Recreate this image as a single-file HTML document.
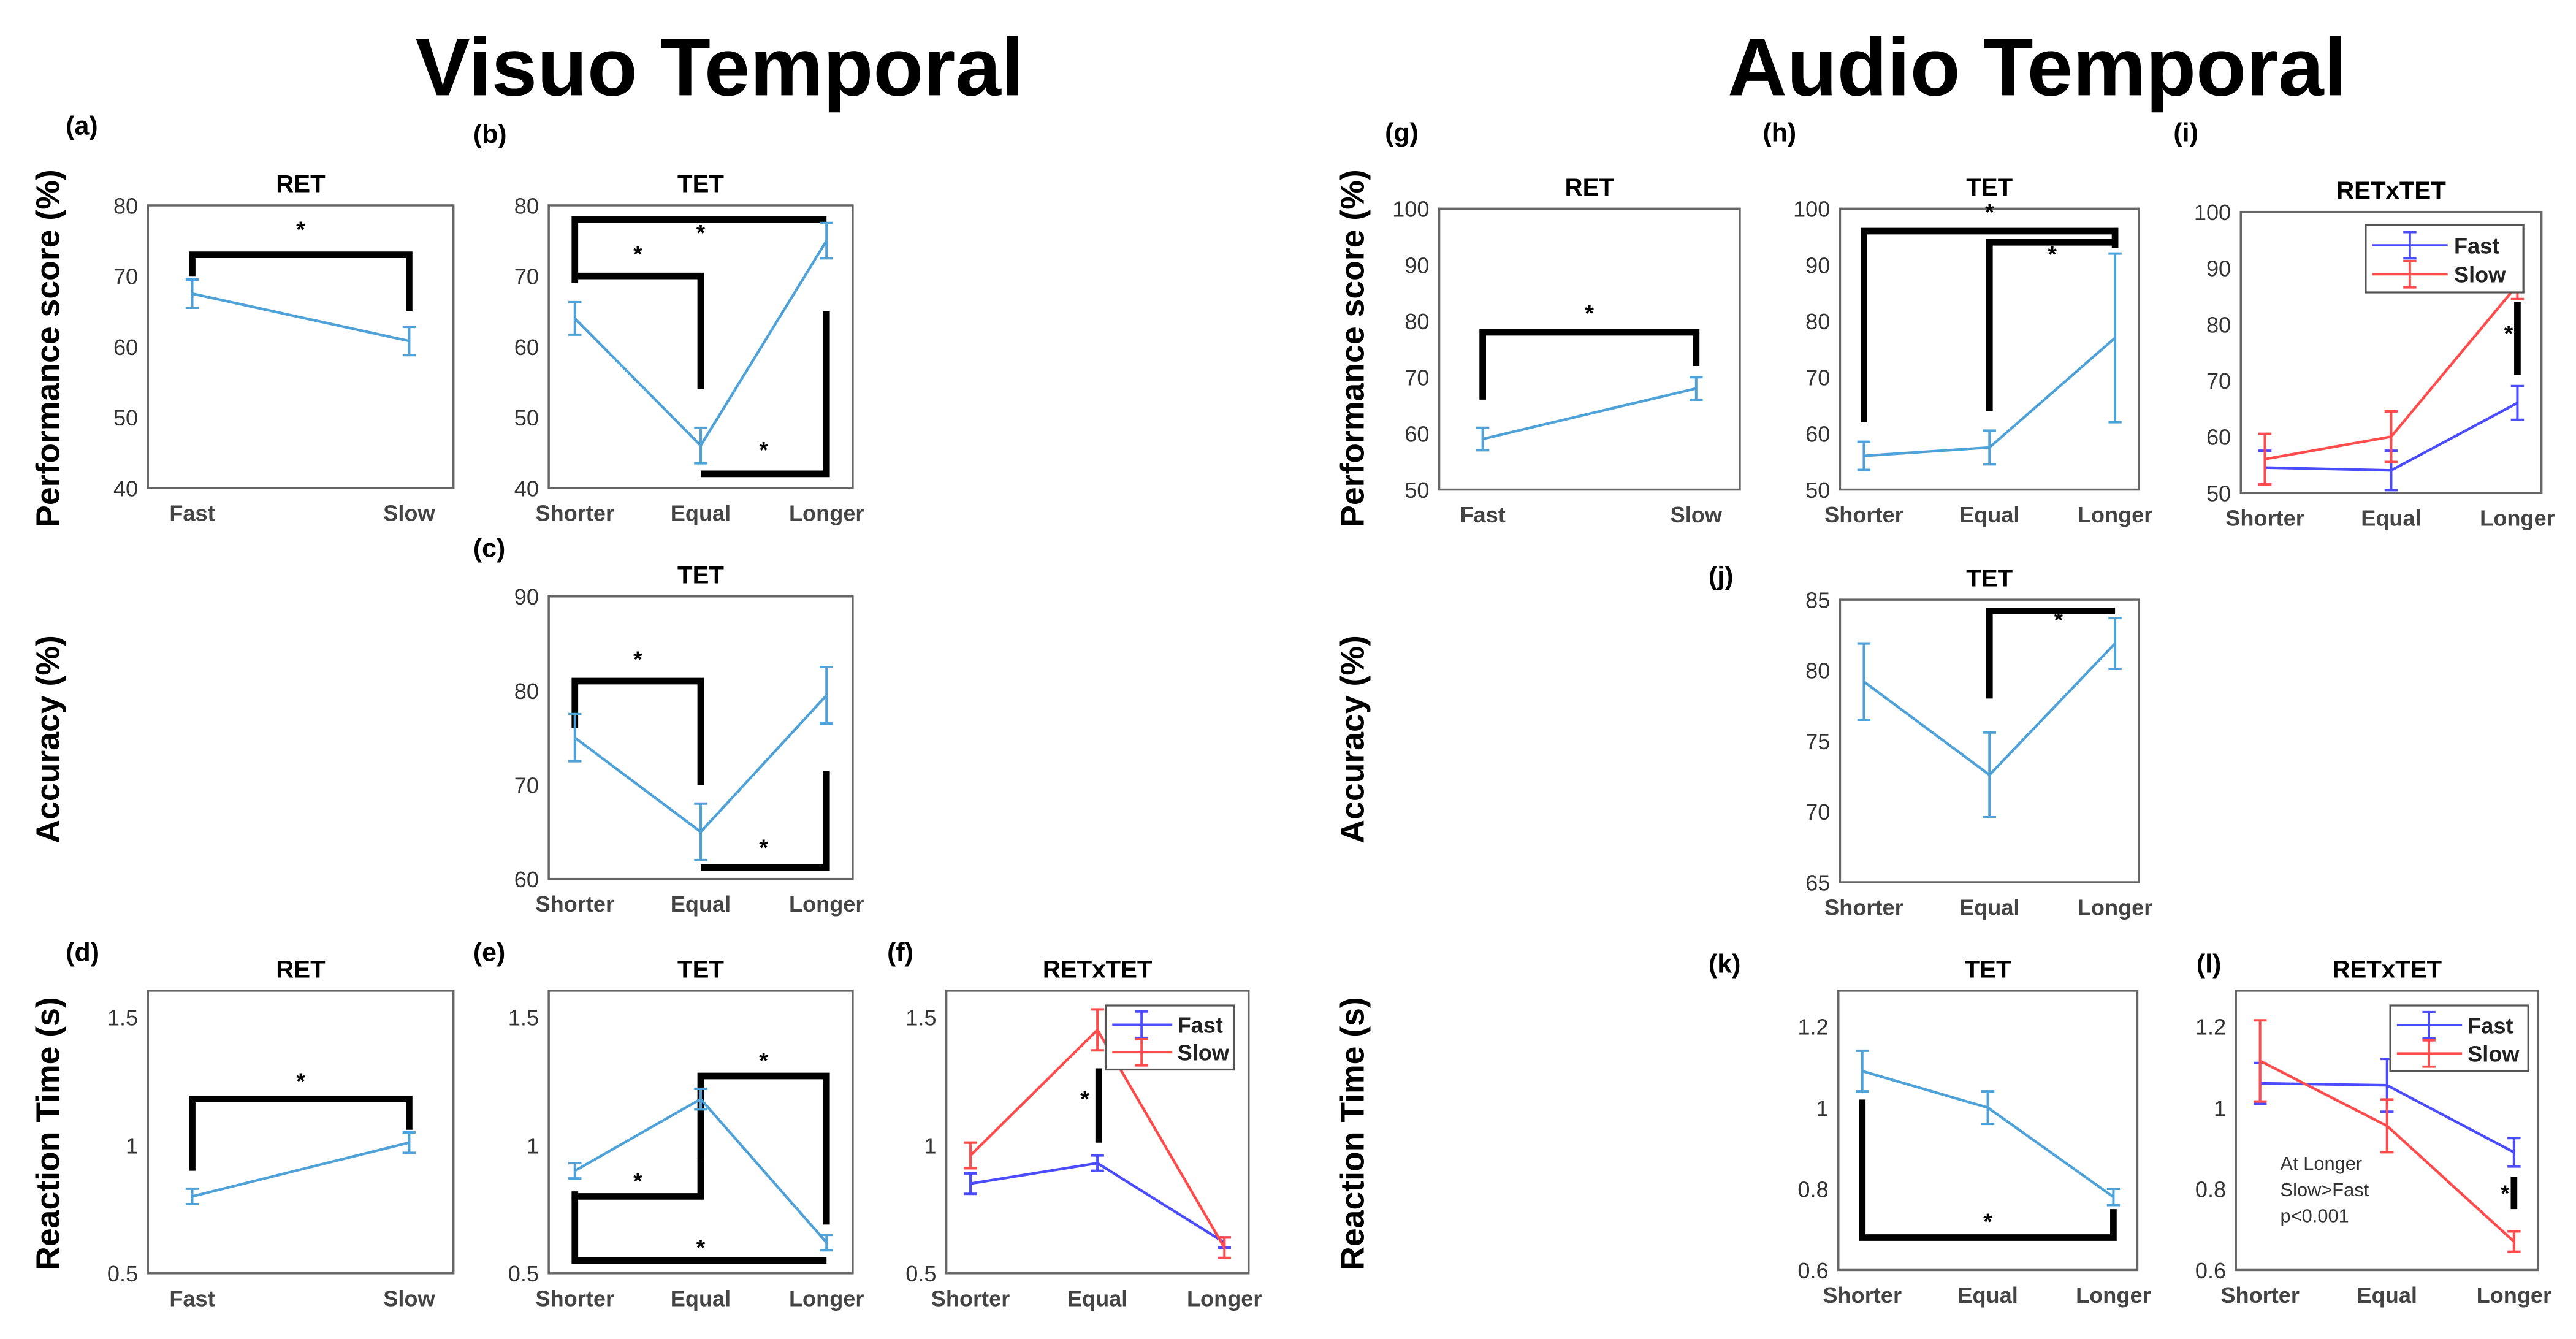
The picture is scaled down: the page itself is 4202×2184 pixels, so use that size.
<!DOCTYPE html>
<html><head><meta charset="utf-8"><style>
html,body{margin:0;padding:0;background:#fff;}
svg{display:block;}
text{font-family:"Liberation Sans",Arial,sans-serif;}
</style></head><body>
<svg id="fig" width="4202" height="2184" viewBox="0 0 1568 815" xmlns="http://www.w3.org/2000/svg">
<text x="438" y="58" text-anchor="middle" font-size="50" font-weight="bold">Visuo Temporal</text>
<text x="1240" y="58" text-anchor="middle" font-size="50" font-weight="bold">Audio Temporal</text>
<text transform="translate(36,212) rotate(-90)" text-anchor="middle" font-size="20" font-weight="bold">Performance score (%)</text>
<text transform="translate(36,450) rotate(-90)" text-anchor="middle" font-size="20" font-weight="bold">Accuracy (%)</text>
<text transform="translate(36,690) rotate(-90)" text-anchor="middle" font-size="20" font-weight="bold">Reaction Time (s)</text>
<text transform="translate(830,212) rotate(-90)" text-anchor="middle" font-size="20" font-weight="bold">Performance score (%)</text>
<text transform="translate(830,450) rotate(-90)" text-anchor="middle" font-size="20" font-weight="bold">Accuracy (%)</text>
<text transform="translate(830,690) rotate(-90)" text-anchor="middle" font-size="20" font-weight="bold">Reaction Time (s)</text>
</svg>
<script>
// ---- data ----
const catsRET = ["Fast","Slow"];
const catsTET = ["Shorter","Equal","Longer"];
const aMean=[67.5,60.8], aErr=[2,2];
const bMean=[64,46,75], bErr=[2.3,2.5,2.5];
const cMean=[75,65,79.5], cErr=[2.5,3,3];
const dMean=[0.80,1.01], dErr=[0.03,0.04];
const eMean=[0.90,1.18,0.62], eErr=[0.03,0.04,0.03];
const fFastMean=[0.85,0.93,0.62], fFastErr=[0.04,0.03,0.02];
const fSlowMean=[0.96,1.45,0.60], fSlowErr=[0.05,0.08,0.04];
const gMean=[59,68], gErr=[2,2];
const hMean=[56,57.5,77], hErr=[2.5,3,15];
const iFastMean=[54.5,54,66], iFastErr=[3,3.5,3];
const iSlowMean=[56,60,87], iSlowErr=[4.5,4.5,2.5];
const jMean=[79.2,72.6,81.9], jErr=[2.7,3,1.8];
const kMean=[1.09,1.0,0.78], kErr=[0.05,0.04,0.02];
const lFastMean=[1.06,1.055,0.89], lFastErr=[0.05,0.065,0.035];
const lSlowMean=[1.115,0.955,0.67], lSlowErr=[0.1,0.065,0.025];
const ticksPerf80=[40,50,60,70,80], ticksAccC=[60,70,80,90], ticksRT=[0.5,1,1.5];
const ticksPerf100=[50,60,70,80,90,100], ticksAccJ=[65,70,75,80,85], ticksRTk=[0.6,0.8,1,1.2];

const BLUE="#4ea2d8", FB="#4b4bff", SR="#ff4b4b";
const svg=document.getElementById('fig');
const NS="http://www.w3.org/2000/svg";
function el(tag,attrs,parent){const e=document.createElementNS(NS,tag);for(const k in attrs)e.setAttribute(k,attrs[k]);(parent||svg).appendChild(e);return e;}

function panel(p){
  const g=el('g',{});
  
  
  const n=p.cats.length;
  const xs=i=>p.x0+(p.x1-p.x0)*(p.pad+(1-2*p.pad)*(n===1?0:i/(n-1)));
  const ys=v=>p.y1-(v-p.ymin)/(p.ymax-p.ymin)*(p.y1-p.y0);
  const box=el('rect',{x:p.x0,y:p.y0,width:p.x1-p.x0,height:p.y1-p.y0,fill:'none',stroke:'#666','stroke-width':1.3},g);
  
  
  const lab=el('text',{x:p.lx,y:p.ly,'font-size':16,'font-weight':'bold'},g);lab.textContent='('+p.id+')';
  
  
  const t=el('text',{x:(p.x0+p.x1)/2,y:p.y0-8,'text-anchor':'middle','font-size':15,'font-weight':'bold'},g);t.textContent=p.title;
  
  
  p.ticks.forEach(v=>{const tx=el('text',{x:p.x0-6,y:ys(v)+5,'text-anchor':'end','font-size':13.5,fill:'#333'},g);tx.textContent=String(v);
    
    });
  p.cats.forEach((c,i)=>{const tx=el('text',{x:xs(i),y:p.y1+20,'text-anchor':'middle','font-size':13.5,'font-weight':'bold',fill:'#444'},g);tx.textContent=c;
    
    });
  (p.brackets||[]).forEach(b=>{const pts=b.map(q=>xs(q[0])+','+ys(q[1])).join(' ');
    const pl=el('polyline',{points:pts,fill:'none',stroke:'#000','stroke-width':4},g);
    
    });
  (p.stars||[]).forEach(s=>{const tx=el('text',{x:xs(s[0]),y:ys(s[1]),'text-anchor':'middle','font-size':14,'font-weight':'bold'},g);tx.textContent='*';
    
    });
  p.series.forEach(s=>{
    const pts=s.mean.map((v,i)=>xs(i)+','+ys(v)).join(' ');
    const pl=el('polyline',{points:pts,fill:'none',stroke:s.color,'stroke-width':1.6},g);
    
    
    s.mean.forEach((v,i)=>{const x=xs(i),a=ys(v+s.err[i]),b=ys(v-s.err[i]);
      const eb=el('path',{d:`M${x},${a}V${b}M${x-4},${a}H${x+4}M${x-4},${b}H${x+4}`,stroke:s.color,'stroke-width':1.5,fill:'none'},g);
      
      });
  });
  if(p.legend){const L=p.legend;
    const lg=el('g',{},g);
    
    
    el('rect',{x:L[0],y:L[1],width:L[2],height:L[3],fill:'#fff',stroke:'#555','stroke-width':1.2},lg);
    [['Fast',FB],['Slow',SR]].forEach((e,k)=>{const yy=L[1]+L[3]*(0.3+0.43*k),cx=L[0]+L[2]*0.28;
      const it=el('g',{},lg);
      
      
      el('path',{d:`M${L[0]+4},${yy}H${L[0]+L[2]*0.52}M${cx},${yy-8}V${yy+8}M${cx-4},${yy-8}H${cx+4}M${cx-4},${yy+8}H${cx+4}`,stroke:e[1],'stroke-width':1.4,fill:'none'},it);
      const tx=el('text',{x:L[0]+L[2]*0.56,y:yy+5,'font-size':13.5,'font-weight':'bold',fill:'#222'},it);tx.textContent=e[0];});
  }
  if(p.note){p.note.forEach((s,k)=>{const tx=el('text',{x:p.x0+27,y:712+k*16,'font-size':11.5,fill:'#333'},g);tx.textContent=s;
    
    });}
}
const P2=0.145,PB=0.086;
panel({id:'a',title:'RET',cats:catsRET,x0:90,x1:276,y0:125,y1:297,ymin:40,ymax:80,ticks:ticksPerf80,pad:P2,lx:40,ly:82,
  series:[{name:'ret',mean:aMean,err:aErr,color:BLUE}],brackets:[[[0,70],[0,73],[1,73],[1,65]]],stars:[[0.5,75.5]]});
panel({id:'b',title:'TET',cats:catsTET,x0:334,x1:519,y0:125,y1:297,ymin:40,ymax:80,ticks:ticksPerf80,pad:PB,lx:288,ly:87,
  series:[{name:'tet',mean:bMean,err:bErr,color:BLUE}],
  brackets:[[[0,69],[0,78],[2,78]],[[0,70],[1,70],[1,54]],[[2,65],[2,42],[1,42]]],stars:[[1,75],[0.5,72],[1.5,44.3]]});
panel({id:'c',title:'TET',cats:catsTET,x0:334,x1:519,y0:363,y1:535,ymin:60,ymax:90,ticks:ticksAccC,pad:PB,lx:288,ly:339,
  series:[{name:'tet',mean:cMean,err:cErr,color:BLUE}],
  brackets:[[[0,76],[0,81],[1,81],[1,70]],[[2,71.5],[2,61.2],[1,61.2]]],stars:[[0.5,82.5],[1.5,62.5]]});
panel({id:'d',title:'RET',cats:catsRET,x0:90,x1:276,y0:603,y1:775,ymin:0.5,ymax:1.603,ticks:ticksRT,pad:P2,lx:40,ly:585,
  series:[{name:'ret',mean:dMean,err:dErr,color:BLUE}],brackets:[[[0,0.9],[0,1.18],[1,1.18],[1,1.06]]],stars:[[0.5,1.22]]});
panel({id:'e',title:'TET',cats:catsTET,x0:334,x1:519,y0:603,y1:775,ymin:0.5,ymax:1.603,ticks:ticksRT,pad:PB,lx:288,ly:585,
  series:[{name:'tet',mean:eMean,err:eErr,color:BLUE}],
  brackets:[[[1,0.95],[1,1.27],[2,1.27],[2,0.69]],[[0,0.82],[0,0.8],[1,0.8],[1,0.95]],[[0,0.8],[0,0.55],[2,0.55]]],stars:[[1.5,1.3],[0.5,0.83],[1,0.57]]});
panel({id:'f',title:'RETxTET',cats:catsTET,x0:576,x1:760,y0:603,y1:775,ymin:0.5,ymax:1.603,ticks:ticksRT,pad:0.08,lx:540,ly:585,
  series:[{name:'fast',mean:fFastMean,err:fFastErr,color:FB},{name:'slow',mean:fSlowMean,err:fSlowErr,color:SR}],
  brackets:[[[1.01,1.3],[1.01,1.01]]],stars:[[0.9,1.15]],legend:[673,612,78,39]});
panel({id:'g',title:'RET',cats:catsRET,x0:876,x1:1059,y0:127,y1:298,ymin:50,ymax:100,ticks:ticksPerf100,pad:P2,lx:843,ly:86,
  series:[{name:'ret',mean:gMean,err:gErr,color:BLUE}],brackets:[[[0,66],[0,78],[1,78],[1,72]]],stars:[[0.5,80]]});
panel({id:'h',title:'TET',cats:catsTET,x0:1120,x1:1302,y0:127,y1:298,ymin:50,ymax:100,ticks:ticksPerf100,pad:0.08,lx:1073,ly:86,
  series:[{name:'tet',mean:hMean,err:hErr,color:BLUE}],brackets:[[[0,62],[0,96],[2,96],[2,93]],[[1,64],[1,94],[2,94]]],stars:[[1,98],[1.5,90.5]]});
panel({id:'i',title:'RETxTET',cats:catsTET,x0:1364,x1:1547,y0:129,y1:300,ymin:50,ymax:100,ticks:ticksPerf100,pad:0.08,lx:1323,ly:86,
  series:[{name:'fast',mean:iFastMean,err:iFastErr,color:FB},{name:'slow',mean:iSlowMean,err:iSlowErr,color:SR}],
  brackets:[[[2,84],[2,71]]],stars:[[1.93,77]],legend:[1440,137,96,41]});
panel({id:'j',title:'TET',cats:catsTET,x0:1120,x1:1302,y0:365,y1:537,ymin:65,ymax:85,ticks:ticksAccJ,pad:0.08,lx:1040,ly:356,
  series:[{name:'tet',mean:jMean,err:jErr,color:BLUE}],brackets:[[[1,78],[1,84.2],[2,84.2]]],stars:[[1.55,83]]});
panel({id:'k',title:'TET',cats:catsTET,x0:1119,x1:1301,y0:603,y1:773,ymin:0.6,ymax:1.288,ticks:ticksRTk,pad:0.08,lx:1040,ly:592,
  series:[{name:'tet',mean:kMean,err:kErr,color:BLUE}],brackets:[[[0,1.02],[0,0.68],[2,0.68],[2,0.75]]],stars:[[1,0.7]]});
panel({id:'l',title:'RETxTET',cats:catsTET,x0:1361,x1:1545,y0:603,y1:773,ymin:0.6,ymax:1.288,ticks:ticksRTk,pad:0.08,lx:1337,ly:592,
  series:[{name:'fast',mean:lFastMean,err:lFastErr,color:FB},{name:'slow',mean:lSlowMean,err:lSlowErr,color:SR}],
  brackets:[[[2,0.83],[2,0.75]]],stars:[[1.93,0.77]],legend:[1455,612,84,40],note:['At Longer','Slow>Fast','p<0.001']});
</script>
</body></html>
